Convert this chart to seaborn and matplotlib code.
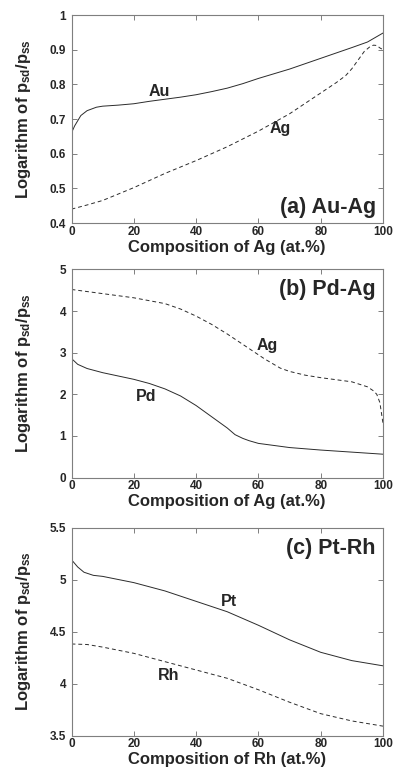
import matplotlib
matplotlib.use("Agg")
import matplotlib.pyplot as plt
import seaborn as sns

# ---- data ----
# (a) Au-Ag
auag_au_x = [0, 1, 3, 5, 8, 10, 15, 20, 25, 30, 35, 40, 45, 50, 55, 60, 70, 80, 90, 95, 100]
auag_au_y = [0.66, 0.68, 0.71, 0.724, 0.734, 0.737, 0.740, 0.744, 0.751, 0.757, 0.763,
             0.770, 0.779, 0.789, 0.802, 0.817, 0.844, 0.875, 0.906, 0.922, 0.948]
auag_ag_x = [0, 5, 10, 20, 30, 40, 50, 60, 70, 80, 85, 88, 90, 92, 94, 96, 97, 98, 99, 100]
auag_ag_y = [0.44, 0.452, 0.465, 0.502, 0.543, 0.58, 0.62, 0.665, 0.715, 0.775, 0.805,
             0.825, 0.845, 0.870, 0.895, 0.910, 0.913, 0.912, 0.905, 0.900]

# (b) Pd-Ag
pdag_ag_x = [0, 10, 20, 30, 35, 40, 45, 50, 55, 60, 62, 67, 70, 75, 80, 85, 90, 95,
             97, 98, 99, 100]
pdag_ag_y = [4.52, 4.42, 4.32, 4.18, 4.05, 3.88, 3.68, 3.45, 3.20, 2.95, 2.85, 2.63,
             2.55, 2.46, 2.40, 2.35, 2.30, 2.18, 2.08, 2.00, 1.80, 1.30]
pdag_pd_x = [0, 2, 5, 10, 20, 25, 30, 35, 40, 45, 50, 52.5, 55, 57, 60, 65, 70, 80, 90, 100]
pdag_pd_y = [2.86, 2.72, 2.62, 2.52, 2.36, 2.26, 2.13, 1.96, 1.73, 1.46, 1.19, 1.03,
             0.94, 0.885, 0.82, 0.77, 0.72, 0.66, 0.61, 0.56]

# (c) Pt-Rh
ptrh_pt_x = [0, 2, 4, 7, 10, 20, 30, 40, 50, 60, 70, 80, 90, 100]
ptrh_pt_y = [5.19, 5.12, 5.07, 5.04, 5.03, 4.97, 4.89, 4.79, 4.69, 4.56, 4.42, 4.30,
             4.22, 4.17]
ptrh_rh_x = [0, 5, 10, 20, 30, 40, 50, 60, 70, 80, 90, 100]
ptrh_rh_y = [4.38, 4.375, 4.35, 4.29, 4.21, 4.13, 4.05, 3.94, 3.82, 3.71, 3.64, 3.59]

panels = [
    {"title": "(a) Au-Ag", "xlabel": "Composition of Ag (at.%)",
     "solid": (auag_au_x, auag_au_y), "dashed": (auag_ag_x, auag_ag_y),
     "ylim": (0.4, 1.0), "yticks": [0.4, 0.5, 0.6, 0.7, 0.8, 0.9, 1.0],
     "labels": [("Au", 28.2, 0.779), ("Ag", 66.9, 0.674)],
     "title_y": 0.445},
    {"title": "(b) Pd-Ag", "xlabel": "Composition of Ag (at.%)",
     "solid": (pdag_pd_x, pdag_pd_y), "dashed": (pdag_ag_x, pdag_ag_y),
     "ylim": (0, 5), "yticks": [0, 1, 2, 3, 4, 5],
     "labels": [("Ag", 62.7, 3.17), ("Pd", 24.1, 1.94)],
     "title_y": 4.51},
    {"title": "(c) Pt-Rh", "xlabel": "Composition of Rh (at.%)",
     "solid": (ptrh_pt_x, ptrh_pt_y), "dashed": (ptrh_rh_x, ptrh_rh_y),
     "ylim": (3.5, 5.5), "yticks": [3.5, 4, 4.5, 5, 5.5],
     "labels": [("Pt", 50.7, 4.79), ("Rh", 31.1, 4.08)],
     "title_y": 5.30},
]

sns.set_style("ticks")
plt.rcParams["font.family"] = ["Liberation Sans", "DejaVu Sans"]
plt.rcParams["font.weight"] = "bold"
plt.rcParams["mathtext.fontset"] = "custom"
plt.rcParams["mathtext.rm"] = "Liberation Sans:bold"
plt.rcParams["mathtext.it"] = "Liberation Sans:bold"
plt.rcParams["mathtext.bf"] = "Liberation Sans:bold"
plt.rcParams["mathtext.default"] = "rm"

W, H = 399, 772
fig = plt.figure(figsize=(W / 100, H / 100), dpi=100)

frame_col = "#7f7f7f"
line_col = "#2b2b2b"
tops = [15, 269.5, 527.5]
for p, top in zip(panels, tops):
    ax = fig.add_axes([71.5 / W, 1 - (top + 208) / H, 311.5 / W, 208 / H])

    sx, sy = p["solid"]
    dx, dy = p["dashed"]
    sns.lineplot(x=sx, y=sy, ax=ax, color=line_col, linewidth=0.7, sort=False)
    sns.lineplot(x=dx, y=dy, ax=ax, color=line_col, linewidth=0.7, sort=False,
                 linestyle=(0, (4, 3)))

    ax.set_xlim(0, 100)
    ax.set_ylim(*p["ylim"])
    ax.set_xticks([0, 20, 40, 60, 80, 100])
    ax.set_yticks(p["yticks"])
    ax.set_yticklabels([f"{v:g}" for v in p["yticks"]])

    for s in ax.spines.values():
        s.set_color(frame_col)
        s.set_linewidth(0.8)
    ax.tick_params(direction="in", length=3.5, width=0.7, color=frame_col,
                   top=True, right=True, labelsize=8.5)
    ax.tick_params(axis="x", pad=2)
    ax.tick_params(axis="y", pad=4)
    for lab in ax.get_xticklabels() + ax.get_yticklabels():
        lab.set_fontweight("bold")

    ax.set_xlabel(p["xlabel"], fontsize=12, fontweight="bold", labelpad=1.5)
    ax.set_ylabel(r"Logarithm of p$_{sd}$/p$_{ss}$", fontsize=12, fontweight="bold")
    ax.yaxis.set_label_coords(-0.124, 0.5)

    ax.text(97.7, p["title_y"], p["title"], ha="right", va="center",
            fontsize=15.5, fontweight="bold")
    for txt, tx, ty in p["labels"]:
        ax.text(tx, ty, txt, ha="center", va="center", fontsize=11.5, fontweight="bold")

fig.savefig("out.png", dpi=100, facecolor="white")
